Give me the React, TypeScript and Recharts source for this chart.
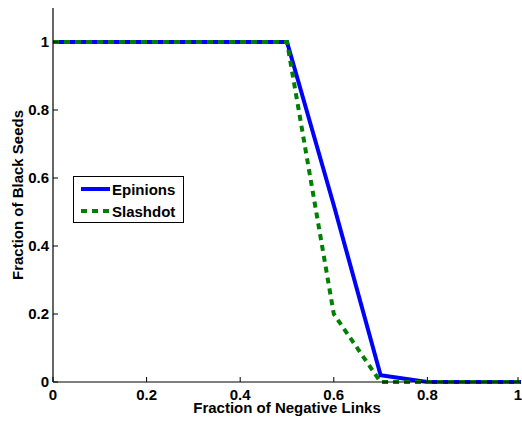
import React from 'react';
import { LineChart, Line, XAxis, YAxis, Legend } from 'recharts';

const xValues = [0, 0.1, 0.2, 0.3, 0.4, 0.5, 0.6, 0.7, 0.8, 0.9, 1.0];
const epinions = [1, 1, 1, 1, 1, 1, 0.52, 0.02, 0, 0, 0];
const slashdot = [1, 1, 1, 1, 1, 1, 0.2, 0, 0, 0, 0];
const xTicks = [0, 0.2, 0.4, 0.6, 0.8, 1];
const yTicks = [0, 0.2, 0.4, 0.6, 0.8, 1];

const data = xValues.map((x, i) => ({ x, Epinions: epinions[i], Slashdot: slashdot[i] }));

const FONT = '"Liberation Sans", Arial, Helvetica, sans-serif';
const FS = 15;
const fmt = (v: number) => String(v);

const BottomTick = (props: any) => {
  const { x, y, payload } = props;
  return (
    <g>
      <line x1={x} y1={y} x2={x} y2={y - 5} stroke="#000" strokeWidth={1} />
      <text x={x} y={y + 18} textAnchor="middle" fontFamily={FONT} fontWeight="bold" fontSize={FS} fill="#000">
        {fmt(payload.value)}
      </text>
    </g>
  );
};
const TopTick = (props: any) => {
  const { x, y } = props;
  return <line x1={x} y1={y} x2={x} y2={y + 5} stroke="#000" strokeWidth={1} />;
};
const LeftTick = (props: any) => {
  const { x, y, payload } = props;
  return (
    <g>
      <line x1={x} y1={y} x2={x + 5} y2={y} stroke="#000" strokeWidth={1} />
      <text x={x - 4} y={y} dy="0.36em" textAnchor="end" fontFamily={FONT} fontWeight="bold" fontSize={FS} fill="#000">
        {fmt(payload.value)}
      </text>
    </g>
  );
};
const RightTick = (props: any) => {
  const { x, y } = props;
  return <line x1={x} y1={y} x2={x - 5} y2={y} stroke="#000" strokeWidth={1} />;
};

const dashes: Record<string, string | undefined> = { Epinions: undefined, Slashdot: '6 5' };

const LegendBox = (props: any) => {
  const { payload } = props;
  return (
    <div style={{ width: 109, height: 45, border: '1px solid #000', background: '#fff', boxSizing: 'content-box', fontFamily: FONT, fontWeight: 'bold', fontSize: FS, color: '#000' }}>
      {(payload || []).map((p: any, i: number) => (
        <div key={i} style={{ display: 'flex', alignItems: 'center', height: 22, marginTop: i === 0 ? 1 : 0 }}>
          <svg width={38} height={10} style={{ display: 'block' }}>
            <line x1={7} y1={5} x2={36} y2={5} stroke={p.color} strokeWidth={4} strokeDasharray={dashes[p.value]} />
          </svg>
          <span>{p.value}</span>
        </div>
      ))}
    </div>
  );
};

export default function App() {
  return (
    <div style={{ position: 'absolute', left: 0, top: 0, width: 522, height: 422, background: '#fff' }}>
      <LineChart width={522} height={422} data={data} margin={{ top: 8, right: 1, left: 0, bottom: 0 }}>
        <XAxis
          xAxisId="b"
          dataKey="x"
          type="number"
          domain={[0, 1]}
          ticks={xTicks}
          height={40}
          tickSize={0}
          tickMargin={0}
          tick={<BottomTick />}
          axisLine={{ stroke: '#000', strokeWidth: 1.2 }}
          tickLine={false}
          label={(p: any) => {
            const vb = p.viewBox;
            return (
              <text x={vb.x + vb.width / 2} y={413} textAnchor="middle" fontFamily={FONT} fontWeight="bold" fontSize={FS} fill="#000">
                Fraction of Negative Links
              </text>
            );
          }}
        />
        <XAxis
          xAxisId="t"
          orientation="top"
          dataKey="x"
          type="number"
          domain={[0, 1]}
          ticks={xTicks}
          height={0}
          tickSize={0}
          tickMargin={0}
          tick={<TopTick />}
          axisLine={{ stroke: '#000', strokeWidth: 1.2 }}
          tickLine={false}
        />
        <YAxis
          yAxisId="l"
          type="number"
          domain={[0, 1.1]}
          ticks={yTicks}
          width={53}
          tickSize={0}
          tickMargin={0}
          tick={<LeftTick />}
          axisLine={{ stroke: '#000', strokeWidth: 1.2 }}
          tickLine={false}
          label={(p: any) => {
            const vb = p.viewBox;
            const cx = 23;
            const cy = vb.y + vb.height / 2;
            return (
              <text x={cx} y={cy} transform={`rotate(-90 ${cx} ${cy})`} textAnchor="middle" fontFamily={FONT} fontWeight="bold" fontSize={FS} fill="#000">
                Fraction of Black Seeds
              </text>
            );
          }}
        />
        <YAxis
          yAxisId="r"
          orientation="right"
          type="number"
          domain={[0, 1.1]}
          ticks={yTicks}
          width={0}
          tickSize={0}
          tickMargin={0}
          tick={<RightTick />}
          axisLine={{ stroke: '#000', strokeWidth: 1.2 }}
          tickLine={false}
        />
        <Legend
          layout="vertical"
          align="center"
          verticalAlign="middle"
          content={<LegendBox />}
          wrapperStyle={{ position: 'absolute', left: 73, top: 176, width: 111, height: 47 }}
        />
        <Line xAxisId="b" yAxisId="l" type="linear" dataKey="Epinions" stroke="#0000FF" strokeWidth={4} dot={false} isAnimationActive={false} />
        <Line xAxisId="b" yAxisId="l" type="linear" dataKey="Slashdot" stroke="#008000" strokeWidth={4} strokeDasharray="6 5" dot={false} isAnimationActive={false} />
      </LineChart>
    </div>
  );
}
